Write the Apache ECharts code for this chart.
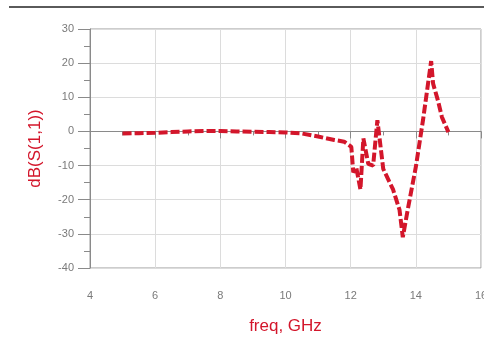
<!DOCTYPE html>
<html>
<head>
<meta charset="utf-8">
<script src="https://cdn.jsdelivr.net/npm/echarts@6/dist/echarts.min.js"></script>
<style>html,body{margin:0;padding:0;background:#fff}#c{width:484px;height:341px}</style>
</head>
<body>
<div id="c"></div>
<script>
const freqGHz = [5, 5.5, 6, 6.5, 7, 7.5, 8, 8.5, 9, 9.5, 10, 10.5, 11, 11.5, 11.8, 11.95, 12.02, 12.08, 12.17, 12.3, 12.39, 12.54, 12.69, 12.82, 13.0, 13.3, 13.5, 13.6, 13.75, 13.9, 14.0, 14.22, 14.47, 14.53, 14.68, 14.8, 15.0];
const s11dB = [-0.6, -0.5, -0.4, -0.2, 0, 0.1, 0.1, 0, -0.1, -0.2, -0.3, -0.6, -1.5, -2.5, -3, -4, -4.5, -12, -10.5, -17, -2, -9.5, -10, 3.3, -11, -17, -23, -31, -23, -15.4, -10.4, 3.3, 20.6, 14, 9, 4.2, -0.2];
const xTicks = [4, 6, 8, 10, 12, 14, 16];
const yTicks = [-40, -30, -20, -10, 0, 10, 20, 30];
const xName = 'freq, GHz';
const yName = 'dB(S(1,1))';

const chart = echarts.init(document.getElementById('c'), null, {renderer: 'canvas'});
const red = '#d3162b';
const labelStyle = {color: '#7a7a7a', fontSize: 11, fontFamily: 'Liberation Sans, Arial, sans-serif'};
chart.setOption({
  animation: false,
  backgroundColor: '#fff',
  grid: {left: 90, right: 3, top: 29, bottom: 73, containLabel: false, outerBoundsMode: 'none', show: true, borderColor: '#9a9a9a', borderWidth: 1, backgroundColor: 'transparent'},
  graphic: [{type: 'line', shape: {x1: 9, y1: 7, x2: 484, y2: 7}, style: {stroke: '#5a5a5a', lineWidth: 2}}],
  xAxis: {
    type: 'value', min: xTicks[0], max: xTicks[xTicks.length - 1], interval: 2,
    name: xName, nameLocation: 'middle', nameGap: 50,
    nameTextStyle: {color: red, fontSize: 17, fontFamily: 'Liberation Sans, Arial, sans-serif'},
    axisLine: {show: true, lineStyle: {color: '#8a8a8a', width: 1}},
    axisTick: {show: true, length: 7, lineStyle: {color: '#8a8a8a'}},
    minorTick: {show: true, splitNumber: 2, length: 4, lineStyle: {color: '#8a8a8a'}},
    axisLabel: Object.assign({margin: 22, showMaxLabel: true}, labelStyle),
    splitLine: {show: true, lineStyle: {color: '#dcdcdc', width: 1}}
  },
  yAxis: {
    type: 'value', min: yTicks[0], max: yTicks[yTicks.length - 1], interval: 10,
    name: yName, nameLocation: 'middle', nameGap: 46, nameRotate: 90,
    nameTextStyle: {color: red, fontSize: 17, fontFamily: 'Liberation Sans, Arial, sans-serif'},
    axisLine: {show: true, lineStyle: {color: '#8a8a8a', width: 1}},
    axisTick: {show: true, length: 12, lineStyle: {color: '#8a8a8a'}},
    minorTick: {show: true, splitNumber: 2, length: 6, lineStyle: {color: '#8a8a8a'}},
    axisLabel: Object.assign({margin: 16}, labelStyle),
    splitLine: {show: true, lineStyle: {color: '#dcdcdc', width: 1}}
  },
  series: [{
    type: 'line',
    data: freqGHz.map((f, i) => [f, s11dB[i]]),
    showSymbol: false,
    lineStyle: {color: red, width: 4, type: [9, 3]},
    clip: false
  }]
});
</script>
</body>
</html>
